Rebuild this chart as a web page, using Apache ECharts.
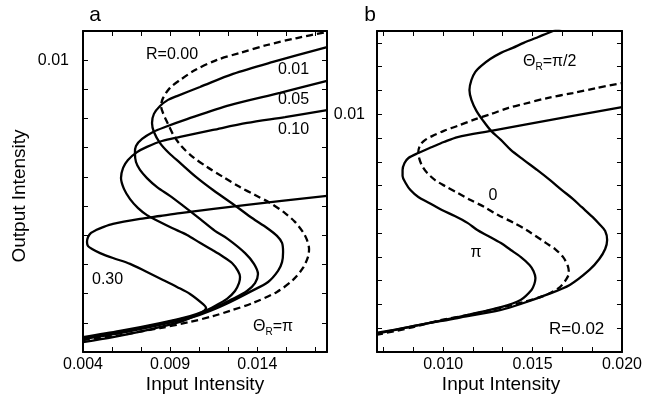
<!DOCTYPE html>
<html><head><meta charset="utf-8">
<script src="https://cdn.jsdelivr.net/npm/echarts@6/dist/echarts.min.js"></script>
<style>html,body{margin:0;padding:0;background:#fff}#c{width:645px;height:402px}</style>
</head><body><div id="c"></div>
<script>
// ---------- Panel a data: [input, output] ----------
const aR000 = [[0.004,0.00041],[0.00612,0.00058],[0.00842,0.00082],[0.01014,0.00103],[0.01146,0.00123],[0.01243,0.00141],[0.01375,0.00168],[0.01513,0.00206],[0.01605,0.00247],[0.01662,0.00288],[0.01691,0.00326],[0.01697,0.00353],[0.01685,0.00384],[0.01662,0.00411],[0.01616,0.00446],[0.01559,0.00476],[0.01473,0.00511],[0.01387,0.00538],[0.01301,0.00565],[0.01203,0.006],[0.01112,0.00634],[0.01031,0.00668],[0.00968,0.00703],[0.00922,0.0074],[0.00888,0.00781],[0.00859,0.00819],[0.00848,0.00843],[0.00859,0.0087],[0.00899,0.00905],[0.00957,0.00932],[0.01043,0.00966],[0.01169,0.01001],[0.01301,0.01025],[0.01456,0.01052],[0.01628,0.01076],[0.018,0.01097]];
const aR001 = [[0.004,0.00045],[0.00612,0.00065],[0.00842,0.00093],[0.01014,0.00117],[0.01129,0.00141],[0.01243,0.00171],[0.01358,0.00206],[0.01462,0.0024],[0.01519,0.00278],[0.01542,0.00308],[0.01548,0.00343],[0.01542,0.00374],[0.01513,0.00398],[0.01456,0.00425],[0.0137,0.00459],[0.01284,0.00497],[0.01146,0.00555],[0.01048,0.006],[0.00957,0.00648],[0.00893,0.00682],[0.00842,0.00716],[0.00807,0.00754],[0.00796,0.00785],[0.00807,0.00816],[0.00842,0.00843],[0.00888,0.00864],[0.00939,0.00877],[0.01071,0.00908],[0.01261,0.00953],[0.0149,0.00994],[0.018,0.01045]];
const aR005 = [[0.004,0.00048],[0.00612,0.00069],[0.00842,0.00096],[0.01014,0.0012],[0.011,0.00137],[0.01175,0.00158],[0.01261,0.00182],[0.01341,0.00209],[0.01387,0.00236],[0.01404,0.00267],[0.01381,0.00302],[0.0133,0.00339],[0.01232,0.00387],[0.01157,0.00415],[0.01071,0.00456],[0.00968,0.00504],[0.00899,0.00535],[0.00825,0.00565],[0.00767,0.00596],[0.00727,0.00624],[0.00704,0.00651],[0.00698,0.00682],[0.00704,0.00706],[0.00739,0.0073],[0.00802,0.00754],[0.00871,0.00771],[0.00997,0.00798],[0.01243,0.00846],[0.0153,0.00888],[0.018,0.00929]];
const aR010 = [[0.004,0.00051],[0.00612,0.00072],[0.00842,0.00099],[0.01014,0.00123],[0.011,0.00141],[0.01157,0.00158],[0.01226,0.00182],[0.01272,0.00209],[0.01295,0.00236],[0.01301,0.00257],[0.01289,0.00278],[0.01255,0.00305],[0.01198,0.00329],[0.0114,0.0035],[0.01071,0.00374],[0.00997,0.00401],[0.00911,0.00425],[0.0083,0.00449],[0.00767,0.00469],[0.00716,0.00493],[0.0067,0.00524],[0.00635,0.00559],[0.00618,0.00596],[0.0063,0.00631],[0.00658,0.00658],[0.0071,0.00685],[0.00767,0.00703],[0.00853,0.00723],[0.00957,0.00737],[0.01146,0.00761],[0.01341,0.00785],[0.01559,0.00805],[0.018,0.00829]];
const aR030 = [[0.004,0.00034],[0.00572,0.00051],[0.00767,0.00075],[0.00957,0.00103],[0.01054,0.00127],[0.01094,0.00141],[0.01106,0.00151],[0.01089,0.00164],[0.01014,0.00199],[0.00939,0.00223],[0.00859,0.00247],[0.00767,0.00274],[0.0067,0.00302],[0.00572,0.00322],[0.00498,0.00339],[0.00452,0.00353],[0.00429,0.00363],[0.00423,0.00377],[0.00429,0.00394],[0.00446,0.00408],[0.00475,0.00418],[0.00515,0.00428],[0.00572,0.00439],[0.00727,0.00456],[0.00842,0.00466],[0.00957,0.00476],[0.01341,0.00504],[0.018,0.00535]];

// ---------- Panel b data (R = 0.02) ----------
const bPiHalf = [[0.00625,0.00076],[0.00806,0.00105],[0.01081,0.00143],[0.01323,0.00177],[0.0145,0.00206],[0.01576,0.0024],[0.01708,0.00282],[0.01818,0.00345],[0.01873,0.00391],[0.01906,0.00433],[0.01917,0.00471],[0.01906,0.00509],[0.01873,0.00538],[0.01835,0.00568],[0.01774,0.0061],[0.01725,0.00644],[0.01664,0.00681],[0.01598,0.00723],[0.01527,0.00765],[0.0145,0.00808],[0.01378,0.0085],[0.01323,0.00892],[0.01268,0.0093],[0.01224,0.00972],[0.01186,0.01014],[0.01158,0.0106],[0.01147,0.01102],[0.01158,0.01144],[0.0118,0.01178],[0.01213,0.01203],[0.01263,0.01232],[0.01323,0.01258],[0.01389,0.01279],[0.0145,0.013],[0.01532,0.01325],[0.01615,0.0135],[0.01692,0.01371]];
const bZero = [[0.00625,0.00072],[0.00812,0.00101],[0.00993,0.00135],[0.01142,0.00156],[0.01268,0.00177],[0.0145,0.0021],[0.01576,0.0024],[0.01653,0.00273],[0.01686,0.00303],[0.01703,0.00332],[0.01697,0.00362],[0.0167,0.004],[0.01626,0.00433],[0.01576,0.00458],[0.01466,0.00513],[0.01395,0.00543],[0.01307,0.00576],[0.0123,0.0061],[0.01153,0.00639],[0.01081,0.00669],[0.0101,0.00698],[0.00955,0.00723],[0.00911,0.00753],[0.00883,0.00782],[0.00867,0.00812],[0.00861,0.00841],[0.00872,0.00871],[0.009,0.00892],[0.00938,0.00908],[0.01004,0.0093],[0.01081,0.00951],[0.01169,0.00976],[0.01268,0.01001],[0.01362,0.01026],[0.0145,0.01043],[0.01582,0.01068],[0.01725,0.01089],[0.01857,0.0111],[0.020,0.01131]];
const bPi = [[0.00625,0.0008],[0.00806,0.00105],[0.01081,0.00147],[0.01323,0.00189],[0.01433,0.00219],[0.01494,0.00261],[0.0151,0.00286],[0.01516,0.00311],[0.01505,0.00341],[0.01483,0.00366],[0.01433,0.004],[0.01378,0.00429],[0.01323,0.00458],[0.01252,0.00488],[0.01191,0.00513],[0.01136,0.00543],[0.01065,0.00572],[0.00993,0.00597],[0.00922,0.00627],[0.00861,0.00652],[0.00817,0.00681],[0.0079,0.00711],[0.00773,0.0074],[0.00773,0.00765],[0.00784,0.00795],[0.00806,0.00816],[0.00861,0.00837],[0.00938,0.00862],[0.01004,0.00883],[0.01081,0.00904],[0.01268,0.0093],[0.0145,0.00955],[0.01725,0.00993],[0.020,0.0103]];

// ---------- Axis ticks / labels ----------
const aXTicks = [0.004,0.00567,0.00733,0.009,0.01067,0.01233,0.014,0.01567,0.01733];
const aXLabels = [0.004,0.009,0.014];
const aYTicks = [0.001,0.002,0.003,0.004,0.005,0.006,0.007,0.008,0.009,0.01];
const aYLabels = [0.01];
const bXTicks = [0.00667,0.00833,0.010,0.01167,0.01333,0.015,0.01667,0.01833,0.020];
const bXLabels = [0.010,0.015,0.020];
const bYTicks = [0.001,0.002,0.003,0.004,0.005,0.006,0.007,0.008,0.009,0.01,0.011,0.012,0.013];
const bYLabels = [0.01];

const FONT = '"Liberation Sans", Arial, Helvetica, sans-serif';
const chart = echarts.init(document.getElementById('c'), null, {renderer:'canvas'});

const lineAx = {show:true, onZero:false, lineStyle:{color:'#000', width:2}};
function xAxes(g, min, max, ticks, labels, fmt) {
  const tick = {show:true, inside:true, length:5, customValues:ticks, lineStyle:{color:'#000', width:1}};
  return [
    {type:'value', gridIndex:g, min, max, position:'bottom', axisLine:lineAx, axisTick:tick, splitLine:{show:false},
     axisLabel:{show:true, customValues:labels, formatter:fmt, color:'#000', fontSize:16, fontFamily:FONT, margin:5, hideOverlap:false}},
    {type:'value', gridIndex:g, min, max, position:'top', axisLine:lineAx, axisTick:tick, splitLine:{show:false}, axisLabel:{show:false}}
  ];
}
function yAxes(g, min, max, ticks, labels, fmt, margin) {
  const tick = {show:true, inside:true, length:5, customValues:ticks, lineStyle:{color:'#000', width:1}};
  return [
    {type:'value', gridIndex:g, min, max, position:'left', axisLine:lineAx, axisTick:tick, splitLine:{show:false},
     axisLabel:{show:true, customValues:labels, formatter:fmt, color:'#000', fontSize:16, fontFamily:FONT, margin:margin, hideOverlap:false}},
    {type:'value', gridIndex:g, min, max, position:'right', axisLine:lineAx, axisTick:tick, splitLine:{show:false}, axisLabel:{show:false}}
  ];
}
function curve(data, xi, yi, dashed) {
  return {type:'line', data, xAxisIndex:xi, yAxisIndex:yi, showSymbol:false, symbol:'none', smooth:0.3, clip:true,
    lineStyle:{color:'#000', width:2.3, type: dashed ? [7,4] : 'solid'}, animation:false, silent:true};
}
function txt(x, y, text, size, align, extra) {
  return Object.assign({type:'text', x, y, silent:true, style:{text, fill:'#000', font: size + 'px ' + FONT, align: align||'left', verticalAlign:'middle'}}, extra||{});
}
const rich = {s:{fontSize:10, fontFamily:FONT, fill:'#000', verticalAlign:'bottom', lineHeight:10}};
function thetaTxt(x, y, text) {
  return {type:'text', x, y, silent:true, style:{text, fill:'#000', fontSize:16, fontFamily:FONT, lineHeight:20, verticalAlign:'middle', align:'left', rich}};
}

const fx = v => v.toFixed(3);
const fy = v => v.toFixed(2);

chart.setOption({
  animation:false,
  grid:[
    {left:83, top:31, width:244, height:321, containLabel:false},
    {left:377, top:31, width:249, height:321, containLabel:false}
  ],
  xAxis:[...xAxes(0, 0.004, 0.018, aXTicks, aXLabels, fx), ...xAxes(1, 0.0063, 0.020, bXTicks, bXLabels, fx)],
  yAxis:[...yAxes(0, 0, 0.011, aYTicks, aYLabels, fy, 14), ...yAxes(1, 0, 0.0135, bYTicks, bYLabels, fy, 12)],
  series:[
    curve(aR000, 0, 0, true),
    curve(aR001, 0, 0, false),
    curve(aR005, 0, 0, false),
    curve(aR010, 0, 0, false),
    curve(aR030, 0, 0, false),
    curve(bZero, 2, 2, true),
    curve(bPiHalf, 2, 2, false),
    curve(bPi, 2, 2, false)
  ],
  graphic:[
    txt(95, 15, 'a', 21, 'center'),
    txt(370, 15, 'b', 21, 'center'),
    txt(20, 196, 'Output Intensity', 19, 'center', {rotation: Math.PI/2}),
    txt(205, 385, 'Input Intensity', 19, 'center'),
    txt(501, 385, 'Input Intensity', 19, 'center'),
    txt(146, 55, 'R=0.00', 16),
    txt(278, 70, '0.01', 16),
    txt(278, 100, '0.05', 16),
    txt(278, 130, '0.10', 16),
    txt(92, 280, '0.30', 16),
    thetaTxt(253, 327, 'Θ{s|R}=π'),
    thetaTxt(523, 62, 'Θ{s|R}=π/2'),
    txt(493, 196, '0', 16, 'center'),
    txt(476, 253, 'π', 16, 'center'),
    txt(549, 329, 'R=0.02', 17)
  ]
});
</script>
</body></html>
